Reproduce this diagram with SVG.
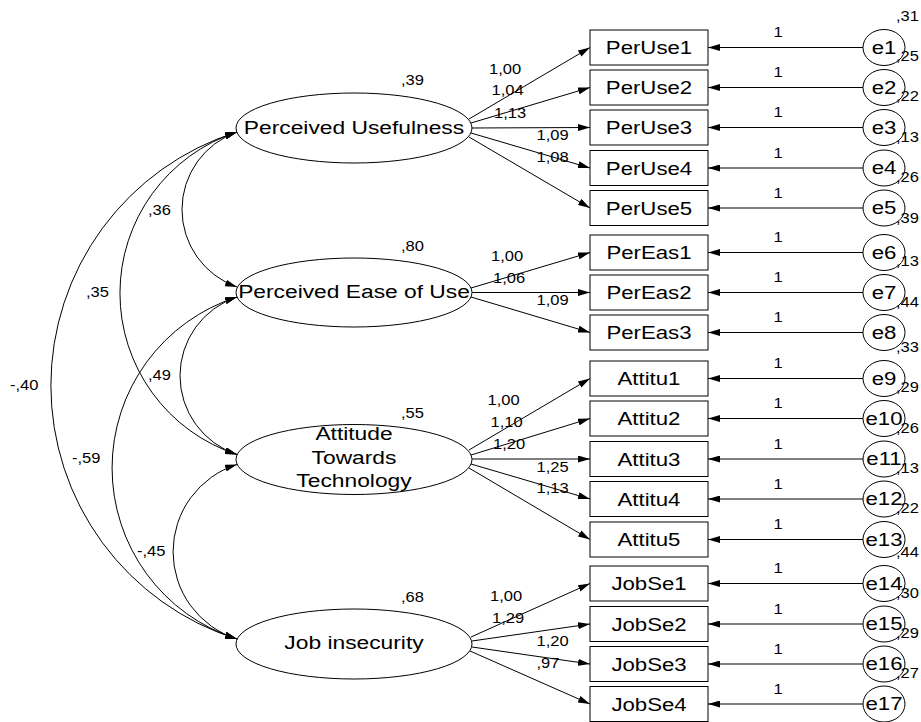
<svg xmlns="http://www.w3.org/2000/svg" width="921" height="722" viewBox="0 0 921 722">
<defs>
<marker id="ah" viewBox="0 0 12 7" refX="12" refY="3.5" markerWidth="12" markerHeight="7" markerUnits="userSpaceOnUse" orient="auto-start-reverse"><path d="M0,0 L12,3.5 L0,7 z" fill="#000"/></marker>
</defs>
<style>
text{font-family:"Liberation Sans",Arial,sans-serif;fill:#000}
.lat{font-size:19px;text-anchor:middle}
.obs{font-size:18.5px;text-anchor:middle}
.num{font-size:14px}
.mid{text-anchor:middle}
ellipse,rect{fill:#fff;stroke:#000;stroke-width:1}
#connectors path{fill:none;stroke:#000;stroke-width:1}
.arr{marker-end:url(#ah)}
.dbl{marker-start:url(#ah);marker-end:url(#ah)}
</style>
<rect x="0" y="0" width="921" height="722" style="fill:#fff;stroke:none"/>
<g id="connectors">
<path class="dbl" d="M237,132 A82.1,82.1 0 0 0 237,287"/>
<path class="dbl" d="M237,132 A169.6,169.6 0 0 0 237,454.5"/>
<path class="dbl" d="M237,132 A265.7,265.7 0 0 0 237,639"/>
<path class="dbl" d="M237,297 A82.9,82.9 0 0 0 237,454.5"/>
<path class="dbl" d="M237,297 A179.5,179.5 0 0 0 237,639"/>
<path class="dbl" d="M237,464.5 A91.5,91.5 0 0 0 237,639"/>
<path class="arr" d="M469,119 L590,47.5"/>
<path class="arr" d="M471,123 L590,87.5"/>
<path class="arr" d="M472,128 L590,127.5"/>
<path class="arr" d="M471,133 L590,168"/>
<path class="arr" d="M469,137 L590,208"/>
<path class="arr" d="M471,288 L590,252.5"/>
<path class="arr" d="M472,292.5 L590,292.5"/>
<path class="arr" d="M471,297 L590,332.5"/>
<path class="arr" d="M469,450 L590,378.5"/>
<path class="arr" d="M471,455 L590,418.5"/>
<path class="arr" d="M472,459 L590,459"/>
<path class="arr" d="M471,464 L590,499"/>
<path class="arr" d="M469,468 L590,539.5"/>
<path class="arr" d="M471,637 L590,583.5"/>
<path class="arr" d="M472,641 L590,624"/>
<path class="arr" d="M472,647 L590,664"/>
<path class="arr" d="M470,651 L590,704"/>
<path class="arr" d="M863,47.5 L708,47.5"/>
<path class="arr" d="M863,87.5 L708,87.5"/>
<path class="arr" d="M863,127.5 L708,127.5"/>
<path class="arr" d="M863,168 L708,168"/>
<path class="arr" d="M863,208 L708,208"/>
<path class="arr" d="M863,252.5 L708,252.5"/>
<path class="arr" d="M863,292.5 L708,292.5"/>
<path class="arr" d="M863,332.5 L708,332.5"/>
<path class="arr" d="M863,378.5 L708,378.5"/>
<path class="arr" d="M863,418.5 L708,418.5"/>
<path class="arr" d="M863,459 L708,459"/>
<path class="arr" d="M863,499 L708,499"/>
<path class="arr" d="M863,539.5 L708,539.5"/>
<path class="arr" d="M863,583.5 L708,583.5"/>
<path class="arr" d="M863,624 L708,624"/>
<path class="arr" d="M863,664 L708,664"/>
<path class="arr" d="M863,704 L708,704"/>
<!-- covariance labels -->
<text class="num" transform="translate(148 215) scale(1.18 1)">,36</text>
<text class="num" transform="translate(86 297) scale(1.18 1)">,35</text>
<text class="num" transform="translate(10 390) scale(1.18 1)">-,40</text>
<text class="num" transform="translate(148 380) scale(1.18 1)">,49</text>
<text class="num" transform="translate(72 463) scale(1.18 1)">-,59</text>
<text class="num" transform="translate(137 556) scale(1.18 1)">-,45</text>
<!-- loading labels -->
<text class="num" transform="translate(489 74) scale(1.18 1)">1,00</text>
<text class="num" transform="translate(491.5 95) scale(1.18 1)">1,04</text>
<text class="num" transform="translate(494 118) scale(1.18 1)">1,13</text>
<text class="num" transform="translate(536.5 140) scale(1.18 1)">1,09</text>
<text class="num" transform="translate(536.5 162) scale(1.18 1)">1,08</text>
<text class="num" transform="translate(491 260.5) scale(1.18 1)">1,00</text>
<text class="num" transform="translate(493 282.5) scale(1.18 1)">1,06</text>
<text class="num" transform="translate(536.5 305) scale(1.18 1)">1,09</text>
<text class="num" transform="translate(487.5 405) scale(1.18 1)">1,00</text>
<text class="num" transform="translate(490.5 426.5) scale(1.18 1)">1,10</text>
<text class="num" transform="translate(493 449) scale(1.18 1)">1,20</text>
<text class="num" transform="translate(536.5 471.5) scale(1.18 1)">1,25</text>
<text class="num" transform="translate(536.5 493) scale(1.18 1)">1,13</text>
<text class="num" transform="translate(490 601) scale(1.18 1)">1,00</text>
<text class="num" transform="translate(492 623) scale(1.18 1)">1,29</text>
<text class="num" transform="translate(536.5 646) scale(1.18 1)">1,20</text>
<text class="num" transform="translate(536.5 668) scale(1.18 1)">,97</text>
<!-- error path labels -->
<text class="num mid" transform="translate(778 37) scale(1.18 1)">1</text>
<text class="num mid" transform="translate(778 77) scale(1.18 1)">1</text>
<text class="num mid" transform="translate(778 117) scale(1.18 1)">1</text>
<text class="num mid" transform="translate(778 157.5) scale(1.18 1)">1</text>
<text class="num mid" transform="translate(778 197.5) scale(1.18 1)">1</text>
<text class="num mid" transform="translate(778 242) scale(1.18 1)">1</text>
<text class="num mid" transform="translate(778 282) scale(1.18 1)">1</text>
<text class="num mid" transform="translate(778 322) scale(1.18 1)">1</text>
<text class="num mid" transform="translate(778 368) scale(1.18 1)">1</text>
<text class="num mid" transform="translate(778 408) scale(1.18 1)">1</text>
<text class="num mid" transform="translate(778 448.5) scale(1.18 1)">1</text>
<text class="num mid" transform="translate(778 488.5) scale(1.18 1)">1</text>
<text class="num mid" transform="translate(778 529) scale(1.18 1)">1</text>
<text class="num mid" transform="translate(778 573) scale(1.18 1)">1</text>
<text class="num mid" transform="translate(778 613.5) scale(1.18 1)">1</text>
<text class="num mid" transform="translate(778 653.5) scale(1.18 1)">1</text>
<text class="num mid" transform="translate(778 693.5) scale(1.18 1)">1</text>
</g>
<!-- latent variables -->
<g id="pu"><ellipse cx="354" cy="128" rx="118" ry="35"/><text class="lat" transform="translate(354 133.5) scale(1.2 1)">Perceived Usefulness</text><text class="num" transform="translate(401 85) scale(1.18 1)">,39</text></g>
<g id="peou"><ellipse cx="354" cy="292.5" rx="118" ry="34.5"/><text class="lat" transform="translate(354 298) scale(1.2 1)">Perceived Ease of Use</text><text class="num" transform="translate(401 251) scale(1.18 1)">,80</text></g>
<g id="att"><ellipse cx="354" cy="459.5" rx="118" ry="35"/><text class="lat" transform="translate(354 440) scale(1.2 1)">Attitude</text><text class="lat" transform="translate(354 464) scale(1.2 1)">Towards</text><text class="lat" transform="translate(354 487) scale(1.2 1)">Technology</text><text class="num" transform="translate(401 418) scale(1.18 1)">,55</text></g>
<g id="ji"><ellipse cx="354" cy="644" rx="118" ry="35"/><text class="lat" transform="translate(354 649) scale(1.2 1)">Job insecurity</text><text class="num" transform="translate(401 602) scale(1.18 1)">,68</text></g>
<!-- observed variables -->
<g id="PerUse1"><rect x="590" y="30" width="118" height="35"/><text class="obs" transform="translate(649 54) scale(1.2 1)">PerUse1</text></g>
<g id="PerUse2"><rect x="590" y="70" width="118" height="35"/><text class="obs" transform="translate(649 94) scale(1.2 1)">PerUse2</text></g>
<g id="PerUse3"><rect x="590" y="110" width="118" height="35"/><text class="obs" transform="translate(649 134) scale(1.2 1)">PerUse3</text></g>
<g id="PerUse4"><rect x="590" y="150.5" width="118" height="35"/><text class="obs" transform="translate(649 174.5) scale(1.2 1)">PerUse4</text></g>
<g id="PerUse5"><rect x="590" y="190.5" width="118" height="35"/><text class="obs" transform="translate(649 214.5) scale(1.2 1)">PerUse5</text></g>
<g id="PerEas1"><rect x="590" y="235" width="118" height="35"/><text class="obs" transform="translate(649 259) scale(1.2 1)">PerEas1</text></g>
<g id="PerEas2"><rect x="590" y="275" width="118" height="35"/><text class="obs" transform="translate(649 299) scale(1.2 1)">PerEas2</text></g>
<g id="PerEas3"><rect x="590" y="315" width="118" height="35"/><text class="obs" transform="translate(649 339) scale(1.2 1)">PerEas3</text></g>
<g id="Attitu1"><rect x="590" y="361" width="118" height="35"/><text class="obs" transform="translate(649 385) scale(1.2 1)">Attitu1</text></g>
<g id="Attitu2"><rect x="590" y="401" width="118" height="35"/><text class="obs" transform="translate(649 425) scale(1.2 1)">Attitu2</text></g>
<g id="Attitu3"><rect x="590" y="441.5" width="118" height="35"/><text class="obs" transform="translate(649 465.5) scale(1.2 1)">Attitu3</text></g>
<g id="Attitu4"><rect x="590" y="481.5" width="118" height="35"/><text class="obs" transform="translate(649 505.5) scale(1.2 1)">Attitu4</text></g>
<g id="Attitu5"><rect x="590" y="522" width="118" height="35"/><text class="obs" transform="translate(649 546) scale(1.2 1)">Attitu5</text></g>
<g id="JobSe1"><rect x="590" y="566" width="118" height="35"/><text class="obs" transform="translate(649 590) scale(1.2 1)">JobSe1</text></g>
<g id="JobSe2"><rect x="590" y="606.5" width="118" height="35"/><text class="obs" transform="translate(649 630.5) scale(1.2 1)">JobSe2</text></g>
<g id="JobSe3"><rect x="590" y="646.5" width="118" height="35"/><text class="obs" transform="translate(649 670.5) scale(1.2 1)">JobSe3</text></g>
<g id="JobSe4"><rect x="590" y="686.5" width="118" height="35"/><text class="obs" transform="translate(649 710.5) scale(1.2 1)">JobSe4</text></g>
<!-- error terms -->
<g id="e1"><ellipse cx="884" cy="47.5" rx="21" ry="18"/><text class="obs" transform="translate(884 53.5) scale(1.2 1)">e1</text><text class="num" transform="translate(896 21) scale(1.18 1)">,31</text></g>
<g id="e2"><ellipse cx="884" cy="87.5" rx="21" ry="18"/><text class="obs" transform="translate(884 93.5) scale(1.2 1)">e2</text><text class="num" transform="translate(896 61) scale(1.18 1)">,25</text></g>
<g id="e3"><ellipse cx="884" cy="127.5" rx="21" ry="18"/><text class="obs" transform="translate(884 133.5) scale(1.2 1)">e3</text><text class="num" transform="translate(896 101) scale(1.18 1)">,22</text></g>
<g id="e4"><ellipse cx="884" cy="168" rx="21" ry="18"/><text class="obs" transform="translate(884 174) scale(1.2 1)">e4</text><text class="num" transform="translate(896 141.5) scale(1.18 1)">,13</text></g>
<g id="e5"><ellipse cx="884" cy="208" rx="21" ry="18"/><text class="obs" transform="translate(884 214) scale(1.2 1)">e5</text><text class="num" transform="translate(896 181.5) scale(1.18 1)">,26</text></g>
<g id="e6"><ellipse cx="884" cy="252.5" rx="21" ry="18"/><text class="obs" transform="translate(884 258.5) scale(1.2 1)">e6</text><text class="num" transform="translate(896 223) scale(1.18 1)">,39</text></g>
<g id="e7"><ellipse cx="884" cy="292.5" rx="21" ry="18"/><text class="obs" transform="translate(884 298.5) scale(1.2 1)">e7</text><text class="num" transform="translate(896 266) scale(1.18 1)">,13</text></g>
<g id="e8"><ellipse cx="884" cy="332.5" rx="21" ry="18"/><text class="obs" transform="translate(884 338.5) scale(1.2 1)">e8</text><text class="num" transform="translate(896 306.5) scale(1.18 1)">,44</text></g>
<g id="e9"><ellipse cx="884" cy="378.5" rx="21" ry="18"/><text class="obs" transform="translate(884 384.5) scale(1.2 1)">e9</text><text class="num" transform="translate(896 352) scale(1.18 1)">,33</text></g>
<g id="e10"><ellipse cx="884" cy="418.5" rx="21" ry="18"/><text class="obs" transform="translate(884 424.5) scale(1.2 1)">e10</text><text class="num" transform="translate(896 392) scale(1.18 1)">,29</text></g>
<g id="e11"><ellipse cx="884" cy="459" rx="21" ry="18"/><text class="obs" transform="translate(884 465) scale(1.2 1)">e11</text><text class="num" transform="translate(896 432.5) scale(1.18 1)">,26</text></g>
<g id="e12"><ellipse cx="884" cy="499" rx="21" ry="18"/><text class="obs" transform="translate(884 505) scale(1.2 1)">e12</text><text class="num" transform="translate(896 472.5) scale(1.18 1)">,13</text></g>
<g id="e13"><ellipse cx="884" cy="539.5" rx="21" ry="18"/><text class="obs" transform="translate(884 545.5) scale(1.2 1)">e13</text><text class="num" transform="translate(896 513) scale(1.18 1)">,22</text></g>
<g id="e14"><ellipse cx="884" cy="583.5" rx="21" ry="18"/><text class="obs" transform="translate(884 589.5) scale(1.2 1)">e14</text><text class="num" transform="translate(896 557) scale(1.18 1)">,44</text></g>
<g id="e15"><ellipse cx="884" cy="624" rx="21" ry="18"/><text class="obs" transform="translate(884 630) scale(1.2 1)">e15</text><text class="num" transform="translate(896 597.5) scale(1.18 1)">,30</text></g>
<g id="e16"><ellipse cx="884" cy="664" rx="21" ry="18"/><text class="obs" transform="translate(884 670) scale(1.2 1)">e16</text><text class="num" transform="translate(896 637.5) scale(1.18 1)">,29</text></g>
<g id="e17"><ellipse cx="884" cy="704" rx="21" ry="18"/><text class="obs" transform="translate(884 710) scale(1.2 1)">e17</text><text class="num" transform="translate(896 677.5) scale(1.18 1)">,27</text></g>
</svg>
